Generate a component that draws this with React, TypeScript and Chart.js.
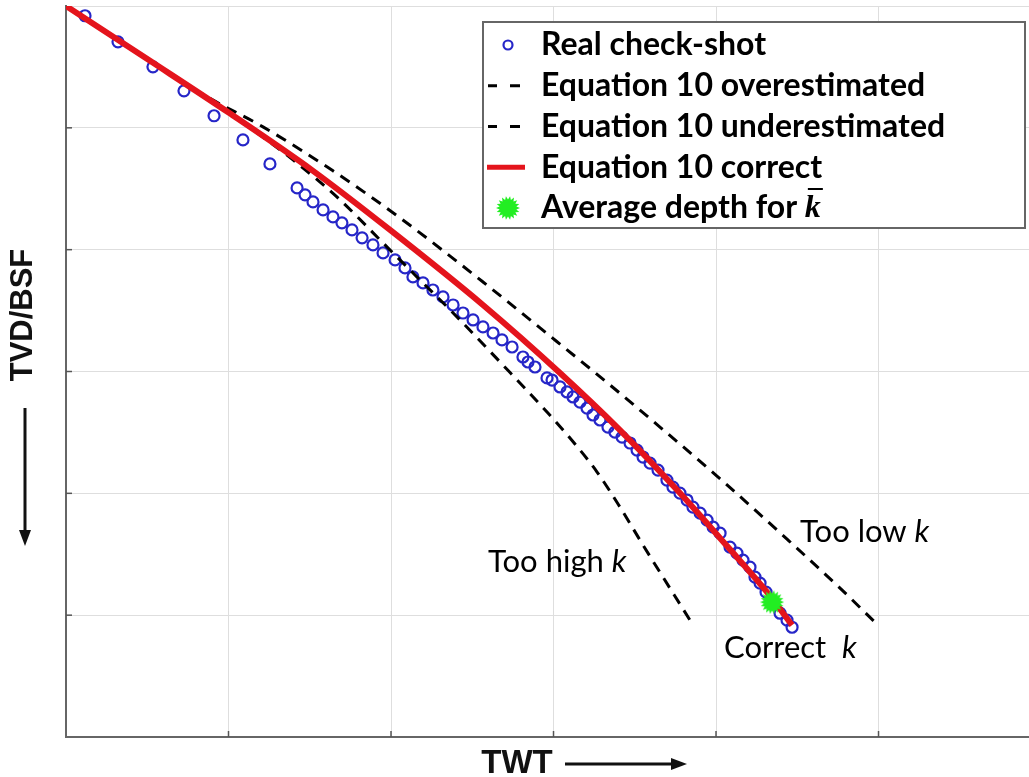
import React, { useEffect, useRef } from "react";
import { Chart, registerables } from "chart.js";

Chart.register(...registerables);

// ---- Data (TWT in grid units, TVD/BSF in grid units; depth increases downward) ----
const checkShotTwt = [
  0.117, 0.32, 0.535, 0.726, 0.911, 1.089, 1.255,
  1.422, 1.471, 1.52, 1.582, 1.643, 1.698, 1.76, 1.822, 1.889, 1.951, 2.025, 2.086, 2.135, 2.197,
  2.258, 2.32, 2.382, 2.443, 2.505, 2.566, 2.628, 2.683, 2.745, 2.812, 2.843, 2.886,
  2.96, 2.991, 3.04, 3.083, 3.12, 3.163, 3.206, 3.243, 3.286, 3.335, 3.378, 3.422, 3.471, 3.514,
  3.551, 3.594, 3.643, 3.698, 3.735, 3.778, 3.822, 3.858, 3.902, 3.945, 3.982, 4.025, 4.086, 4.129,
  4.166, 4.209, 4.24, 4.271, 4.308, 4.351, 4.394, 4.437, 4.468,
];
const checkShotDepth = [
  0.08, 0.294, 0.499, 0.696, 0.901, 1.099, 1.296,
  1.493, 1.55, 1.608, 1.674, 1.731, 1.78, 1.838, 1.903, 1.961, 2.027, 2.084, 2.15, 2.224, 2.273,
  2.331, 2.388, 2.454, 2.52, 2.577, 2.634, 2.684, 2.741, 2.799, 2.881, 2.922, 2.963,
  3.053, 3.07, 3.127, 3.168, 3.209, 3.251, 3.3, 3.357, 3.398, 3.456, 3.497, 3.538, 3.587, 3.645,
  3.702, 3.752, 3.809, 3.891, 3.949, 3.998, 4.055, 4.113, 4.162, 4.22, 4.277, 4.327, 4.441, 4.491,
  4.548, 4.606, 4.688, 4.737, 4.811, 4.901, 4.984, 5.041, 5.099,
];

const correctTwt = [0, 0.517, 1.003, 1.52, 1.994, 2.566, 3.04, 3.409, 3.778, 4.068, 4.314, 4.468];
const correctDepth = [0, 0.45, 0.877, 1.353, 1.838, 2.454, 3.012, 3.481, 3.998, 4.433, 4.811, 5.082];

// Too low k (shallower curve)
const underTwt = [0, 0.517, 0.868, 1.212, 1.643, 2.055, 2.566, 2.978, 3.348, 3.655, 4.006, 4.437, 4.763, 4.997];
const underDepth = [0, 0.45, 0.745, 0.992, 1.353, 1.739, 2.265, 2.708, 3.111, 3.456, 3.858, 4.376, 4.778, 5.082];

// Too high k (deeper curve)
const overTwt = [0, 0.517, 0.868, 1.089, 1.397, 1.686, 1.951, 2.178, 2.406, 2.671, 2.96, 3.132, 3.268, 3.409, 3.551, 3.84];
const overDepth = [0, 0.45, 0.758, 0.959, 1.263, 1.591, 1.945, 2.248, 2.552, 2.922, 3.333, 3.595, 3.825, 4.113, 4.425, 5.041];

const avgTwt = [4.345];
const avgDepth = [4.893];

const gridTicks = [1, 2, 3, 4, 5];
const X_MAX = 5.926;
const Y_MAX = 6;

const legendLabels = [
  "Real check-shot",
  "Equation 10 overestimated",
  "Equation 10 underestimated",
  "Equation 10 correct",
  "Average depth for ",
];
const kBar = "k";

const annotationTexts = ["Too high ", "Too low ", "Correct  "];
const annotationX = [2.597, 4.517, 4.049];
const annotationY = [4.565, 4.318, 5.271];

const xTitle = "TWT";
const yTitle = "TVD/BSF";

const BLUE = "#2626c8";
const RED = "#e4141c";
const GREEN = "#22ee22";

function zip(xs: number[], ys: number[]) {
  return xs.map((x, i) => ({ x, y: ys[i] }));
}

function makeStar(size: number): HTMLCanvasElement {
  const c = document.createElement("canvas");
  c.width = size;
  c.height = size;
  const g = c.getContext("2d")!;
  const cx = size / 2;
  const spikes = 18;
  const ro = size / 2;
  const ri = size / 2 - 3.5;
  g.beginPath();
  for (let i = 0; i < spikes * 2; i++) {
    const r = i % 2 === 0 ? ro : ri;
    const a = (Math.PI * i) / spikes;
    const px = cx + r * Math.cos(a);
    const py = cx + r * Math.sin(a);
    if (i === 0) g.moveTo(px, py);
    else g.lineTo(px, py);
  }
  g.closePath();
  g.fillStyle = GREEN;
  g.fill();
  return c;
}

export default function App() {
  const ref = useRef<HTMLCanvasElement | null>(null);

  useEffect(() => {
    if (!ref.current) return;
    const star = makeStar(24);

    const decorPlugin = {
      id: "decor",
      afterDatasetsDraw(chart: any) {
        const ctx = chart.ctx as CanvasRenderingContext2D;
        const ca = chart.chartArea;
        const xs = chart.scales.x;
        const ys = chart.scales.y;
        ctx.save();

        // inward tick marks
        ctx.strokeStyle = "#555";
        ctx.lineWidth = 1.5;
        gridTicks.forEach((v) => {
          const py = ys.getPixelForValue(v);
          ctx.beginPath();
          ctx.moveTo(ca.left, py);
          ctx.lineTo(ca.left + 6, py);
          ctx.stroke();
          const px = xs.getPixelForValue(v);
          ctx.beginPath();
          ctx.moveTo(px, ca.bottom);
          ctx.lineTo(px, ca.bottom - 6);
          ctx.stroke();
        });

        // annotations
        ctx.fillStyle = "#000";
        ctx.textBaseline = "middle";
        annotationTexts.forEach((t, i) => {
          const px = xs.getPixelForValue(annotationX[i]);
          const py = ys.getPixelForValue(annotationY[i]);
          ctx.font = "31px Lato";
          ctx.textAlign = "left";
          ctx.fillText(t, px, py);
          const w = ctx.measureText(t).width;
          ctx.font = "italic 31px Lato";
          ctx.fillText("k", px + w, py);
        });

        // legend
        const bx = ca.right - 546;
        const by = ca.top + 16;
        const bw = 542;
        const bh = 206;
        ctx.fillStyle = "#fff";
        ctx.fillRect(bx, by, bw, bh);
        ctx.strokeStyle = "#666";
        ctx.lineWidth = 2;
        ctx.strokeRect(bx, by, bw, bh);
        const mx = bx + 25;
        const tx = bx + 58;
        legendLabels.forEach((lab, i) => {
          const ry = by + 23 + i * 40.75;
          if (i === 0) {
            ctx.strokeStyle = BLUE;
            ctx.lineWidth = 2.2;
            ctx.beginPath();
            ctx.arc(mx, ry, 4.5, 0, Math.PI * 2);
            ctx.stroke();
          } else if (i === 1 || i === 2) {
            ctx.strokeStyle = "#000";
            ctx.lineWidth = 3;
            ctx.beginPath();
            ctx.moveTo(mx - 20, ry);
            ctx.lineTo(mx - 11, ry);
            ctx.moveTo(mx + 2, ry);
            ctx.lineTo(mx + 12, ry);
            ctx.stroke();
          } else if (i === 3) {
            ctx.strokeStyle = RED;
            ctx.lineWidth = 5;
            ctx.beginPath();
            ctx.moveTo(mx - 21, ry);
            ctx.lineTo(mx + 17, ry);
            ctx.stroke();
          } else {
            ctx.drawImage(star, mx - 12, ry - 12);
          }
          ctx.fillStyle = "#000";
          ctx.font = "bold 32px Lato";
          ctx.textAlign = "left";
          ctx.textBaseline = "middle";
          ctx.fillText(lab, tx, ry);
          if (i === 4) {
            const w = ctx.measureText(lab).width;
            ctx.font = "bold italic 32px 'Liberation Serif'";
            ctx.fillText(kBar, tx + w, ry + 1);
            const kw = ctx.measureText(kBar).width;
            ctx.strokeStyle = "#000";
            ctx.lineWidth = 2;
            ctx.beginPath();
            ctx.moveTo(tx + w + 3, ry - 19);
            ctx.lineTo(tx + w + kw + 2, ry - 19);
            ctx.stroke();
          }
        });

        // axis titles
        ctx.fillStyle = "#111";
        ctx.strokeStyle = "#111";
        ctx.font = "bold 33px 'Liberation Sans'";
        ctx.textAlign = "center";
        ctx.textBaseline = "middle";
        const tcx = ca.left + 451;
        const tcy = ca.bottom + 27;
        ctx.fillText(xTitle, tcx, tcy);
        ctx.lineWidth = 3;
        ctx.beginPath();
        ctx.moveTo(tcx + 48, tcy);
        ctx.lineTo(tcx + 158, tcy);
        ctx.stroke();
        ctx.beginPath();
        ctx.moveTo(tcx + 170, tcy);
        ctx.lineTo(tcx + 154, tcy - 6);
        ctx.lineTo(tcx + 154, tcy + 6);
        ctx.closePath();
        ctx.fill();

        ctx.save();
        ctx.translate(23, 315);
        ctx.rotate(-Math.PI / 2);
        ctx.font = "bold 31px 'Liberation Sans'";
        ctx.fillText(yTitle, 0, 0);
        ctx.restore();
        ctx.lineWidth = 3;
        ctx.beginPath();
        ctx.moveTo(25, 408);
        ctx.lineTo(25, 532);
        ctx.stroke();
        ctx.beginPath();
        ctx.moveTo(25, 546);
        ctx.lineTo(19, 530);
        ctx.lineTo(31, 530);
        ctx.closePath();
        ctx.fill();

        ctx.restore();
      },
    };

    const chart = new Chart(ref.current, {
      type: "scatter",
      data: {
        datasets: [
          {
            label: "Average depth for k",
            data: zip(avgTwt, avgDepth),
            pointStyle: star as any,
            pointRadius: 12,
            showLine: false,
          },
          {
            label: "Equation 10 correct",
            data: zip(correctTwt, correctDepth),
            showLine: true,
            borderColor: RED,
            borderWidth: 6,
            pointRadius: 0,
            cubicInterpolationMode: "monotone",
          },
          {
            label: "Equation 10 overestimated",
            data: zip(overTwt, overDepth),
            showLine: true,
            borderColor: "#000",
            borderWidth: 3,
            borderDash: [11, 8],
            pointRadius: 0,
            cubicInterpolationMode: "monotone",
          },
          {
            label: "Equation 10 underestimated",
            data: zip(underTwt, underDepth),
            showLine: true,
            borderColor: "#000",
            borderWidth: 3,
            borderDash: [11, 8],
            pointRadius: 0,
            cubicInterpolationMode: "monotone",
          },
          {
            label: "Real check-shot",
            data: zip(checkShotTwt, checkShotDepth),
            showLine: false,
            pointStyle: "circle",
            pointRadius: 5.5,
            borderColor: BLUE,
            borderWidth: 2.2,
            backgroundColor: "rgba(0,0,0,0)",
          },
        ],
      },
      options: {
        animation: false,
        responsive: true,
        maintainAspectRatio: false,
        layout: { autoPadding: false, padding: { left: 66, top: 6, right: 0, bottom: 40 } },
        plugins: { legend: { display: false }, tooltip: { enabled: false } },
        scales: {
          x: {
            type: "linear",
            min: 0,
            max: X_MAX,
            afterFit: (s: any) => {
              s.height = 0;
            },
            ticks: { display: false, stepSize: 1, includeBounds: false },
            grid: { color: "#dedede", lineWidth: 1, drawTicks: false },
            border: { display: true, color: "#666", width: 2 },
          },
          y: {
            type: "linear",
            min: 0,
            max: Y_MAX,
            reverse: true,
            afterFit: (s: any) => {
              s.width = 0;
            },
            ticks: { display: false, stepSize: 1 },
            grid: { color: "#dedede", lineWidth: 1, drawTicks: false },
            border: { display: true, color: "#666", width: 2 },
          },
        },
      },
      plugins: [decorPlugin],
    });
    return () => chart.destroy();
  }, []);

  return (
    <div style={{ position: "absolute", left: 0, top: 0, width: 1029, height: 777, background: "#fff" }}>
      <canvas ref={ref} />
    </div>
  );
}
